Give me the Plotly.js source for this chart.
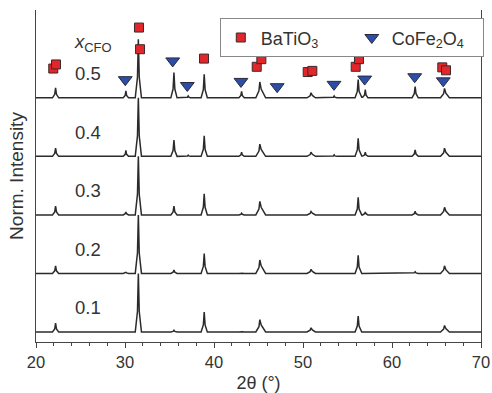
<!DOCTYPE html>
<html>
<head>
<meta charset="utf-8">
<script src="https://cdn.plot.ly/plotly-3.0.1.min.js"></script>
<style>html,body{margin:0;padding:0;background:#fff;}#plot{width:492px;height:393px;}</style>
</head>
<body>
<div id="plot"></div>
<script>
// 2θ sampling points (degrees) around each diffraction peak
const twoTheta = [20,
  21.85,22.1,22.2,22.3,22.55,
  29.8,30.02,30.1,30.18,30.4,
  31.15,31.4,31.5,31.6,31.85,
  35.15,35.4,35.5,35.6,35.85,
  36.85,37.02,37.1,37.18,37.35,
  38.55,38.8,38.9,39.0,39.25,
  42.8,43.02,43.1,43.18,43.4,
  44.7,45.05,45.15,45.3,45.8,
  50.45,50.8,50.9,51.05,51.4,
  53.2,53.42,53.5,53.58,53.8,
  55.85,56.1,56.2,56.3,56.6,
  56.7,56.92,57.0,57.08,57.3,
  62.25,62.5,62.6,62.7,62.95,
  65.45,65.8,65.9,66.05,66.45,
  70];

// normalized intensities
const int01 = [0,
  0,0.05,0.15,0.05,0,
  0,0,0,0,0,
  0,0.35,1.0,0.35,0,
  0,0.01,0.03,0.01,0,
  0,0,0,0,0,
  0,0.12,0.34,0.12,0,
  0,0.005,0.01,0.005,0,
  0,0.09,0.21,0.12,0,
  0,0.03,0.07,0.035,0,
  0,0,0,0,0,
  0,0.1,0.27,0.1,0,
  0,0,0,0,0,
  0,0.005,0.01,0.005,0,
  0,0.05,0.11,0.06,0,
  0];
const int02 = [0,
  0,0.045,0.13,0.045,0,
  0,0.01,0.02,0.01,0,
  0,0.35,1.0,0.35,0,
  0,0.02,0.06,0.02,0,
  0,0,0,0,0,
  0,0.12,0.34,0.12,0,
  0,0.005,0.015,0.005,0,
  0,0.1,0.23,0.13,0,
  0,0.03,0.07,0.035,0,
  0,0,0,0,0,
  0,0.11,0.31,0.11,0,
  0,0,0,0,0,
  0,0.01,0.03,0.01,0,
  0,0.06,0.13,0.065,0,
  0];
const int03 = [0,
  0,0.05,0.15,0.05,0,
  0,0.02,0.05,0.02,0,
  0,0.35,1.0,0.35,0,
  0,0.05,0.15,0.05,0,
  0,0,0,0,0,
  0,0.13,0.36,0.13,0,
  0,0.01,0.03,0.01,0,
  0,0.1,0.23,0.13,0,
  0,0.025,0.06,0.03,0,
  0,0,0,0,0,
  0,0.1,0.30,0.1,0,
  0,0.02,0.05,0.02,0,
  0,0.02,0.06,0.02,0,
  0,0.06,0.13,0.065,0,
  0];
const int04 = [0,
  0,0.05,0.14,0.05,0,
  0,0.035,0.10,0.035,0,
  0,0.35,1.0,0.35,0,
  0,0.1,0.28,0.1,0,
  0,0.007,0.02,0.007,0,
  0,0.12,0.35,0.12,0,
  0,0.025,0.07,0.025,0,
  0,0.09,0.21,0.12,0,
  0,0.03,0.07,0.035,0,
  0,0.008,0.025,0.008,0,
  0,0.11,0.31,0.11,0.005,
  0.005,0.025,0.07,0.025,0,
  0,0.04,0.11,0.04,0,
  0,0.06,0.14,0.07,0,
  0];
const int05 = [0,
  0,0.06,0.17,0.06,0,
  0,0.04,0.12,0.04,0,
  0,0.35,1.0,0.35,0,
  0,0.15,0.43,0.15,0,
  0,0.01,0.03,0.01,0,
  0,0.14,0.40,0.14,0,
  0,0.04,0.11,0.04,0,
  0,0.12,0.27,0.15,0,
  0,0.035,0.085,0.04,0,
  0,0.01,0.03,0.01,0,
  0,0.11,0.31,0.11,0.01,
  0.01,0.05,0.14,0.05,0,
  0,0.07,0.19,0.07,0,
  0,0.07,0.16,0.08,0,
  0];

const compositions = ['0.1', '0.2', '0.3', '0.4', '0.5'];
const patterns = [int01, int02, int03, int04, int05];

// reflection markers (2θ, plotted height)
const btoX = [21.94, 22.25, 31.57, 31.69, 38.88, 44.8, 45.32, 50.53, 51.05, 55.92, 56.29, 65.65, 66.07];
const btoY = [4.50, 4.57, 5.20, 4.83, 4.67, 4.53, 4.66, 4.44, 4.46, 4.53, 4.66, 4.52, 4.47];
const cfoX = [30.03, 35.36, 37.0, 43.03, 47.1, 53.48, 56.93, 62.55, 65.76];
const cfoY = [4.31, 4.63, 4.21, 4.28, 4.19, 4.23, 4.32, 4.36, 4.29];

const FONT = 'Liberation Sans, Arial, Helvetica, sans-serif';
const INK = '#333333';

const traces = [];
patterns.forEach((p, i) => {
  traces.push({
    x: twoTheta, y: p.map(v => v + i), type: 'scatter', mode: 'lines',
    line: {color: '#2b2b2b', width: 1.5}, showlegend: false, hoverinfo: 'skip'
  });
});
traces.push({
  x: btoX, y: btoY, type: 'scatter', mode: 'markers', name: 'BaTiO<sub>3</sub>',
  marker: {symbol: 'square', size: 9, color: '#e3262b', line: {color: '#3a2a2a', width: 1}}
});
traces.push({
  x: cfoX, y: cfoY, type: 'scatter', mode: 'markers', name: 'CoFe<sub>2</sub>O<sub>4</sub>',
  marker: {symbol: 'triangle-down', size: 12, color: '#2d4ea6', line: {color: '#2a2a3a', width: 1}}
});

const annotations = compositions.map((c, i) => ({
  x: 25.8, y: i + 0.41, xref: 'x', yref: 'y', text: c, showarrow: false,
  font: {family: FONT, size: 18.5, color: INK}, xanchor: 'center', yanchor: 'middle'
}));
annotations.push({
  x: 24.1, y: 4.93, xref: 'x', yref: 'y', text: '<i>x</i><sub>CFO</sub>', showarrow: false,
  font: {family: FONT, size: 18.5, color: INK}, xanchor: 'left', yanchor: 'middle'
});

const layout = {
  width: 492, height: 393,
  margin: {l: 36, r: 11, t: 10, b: 51, autoexpand: false},
  paper_bgcolor: '#fff', plot_bgcolor: '#fff',
  font: {family: FONT, color: INK, size: 16},
  xaxis: {
    range: [20, 70], dtick: 10, tick0: 20, ticks: 'outside', ticklen: 5, tickwidth: 1, tickcolor: '#444',
    minor: {dtick: 2, ticks: 'outside', ticklen: 3, tickcolor: '#444', tickwidth: 1, showgrid: false},
    showline: true, linecolor: '#444', linewidth: 1, showgrid: false, zeroline: false,
    tickfont: {family: FONT, size: 16.5, color: INK},
    title: {text: '2θ (°)', font: {family: FONT, size: 18, color: INK}, standoff: 6}
  },
  xaxis2: {
    overlaying: 'x', side: 'top', range: [20, 70], dtick: 10, tick0: 20,
    ticks: 'inside', ticklen: 6, tickcolor: '#444', showticklabels: false,
    minor: {dtick: 2, ticks: 'inside', ticklen: 4, tickcolor: '#444', showgrid: false},
    showline: true, linecolor: '#444', linewidth: 1, showgrid: false, zeroline: false
  },
  yaxis: {
    range: [-0.171, 5.5], showticklabels: false, ticks: '', showgrid: false, zeroline: false,
    showline: true, mirror: true, linecolor: '#444', linewidth: 1,
    title: {text: 'Norm. Intensity', font: {family: FONT, size: 19, color: INK}, standoff: 6}
  },
  legend: {
    orientation: 'h', x: 0.413, y: 0.975, xanchor: 'left', yanchor: 'top',
    bgcolor: '#fff', bordercolor: '#888', borderwidth: 1,
    font: {family: FONT, size: 18, color: INK}, entrywidth: 86
  },
  annotations: annotations,
  showlegend: true
};

Plotly.newPlot('plot', traces, layout, {staticPlot: true, displayModeBar: false});
</script>
</body>
</html>
